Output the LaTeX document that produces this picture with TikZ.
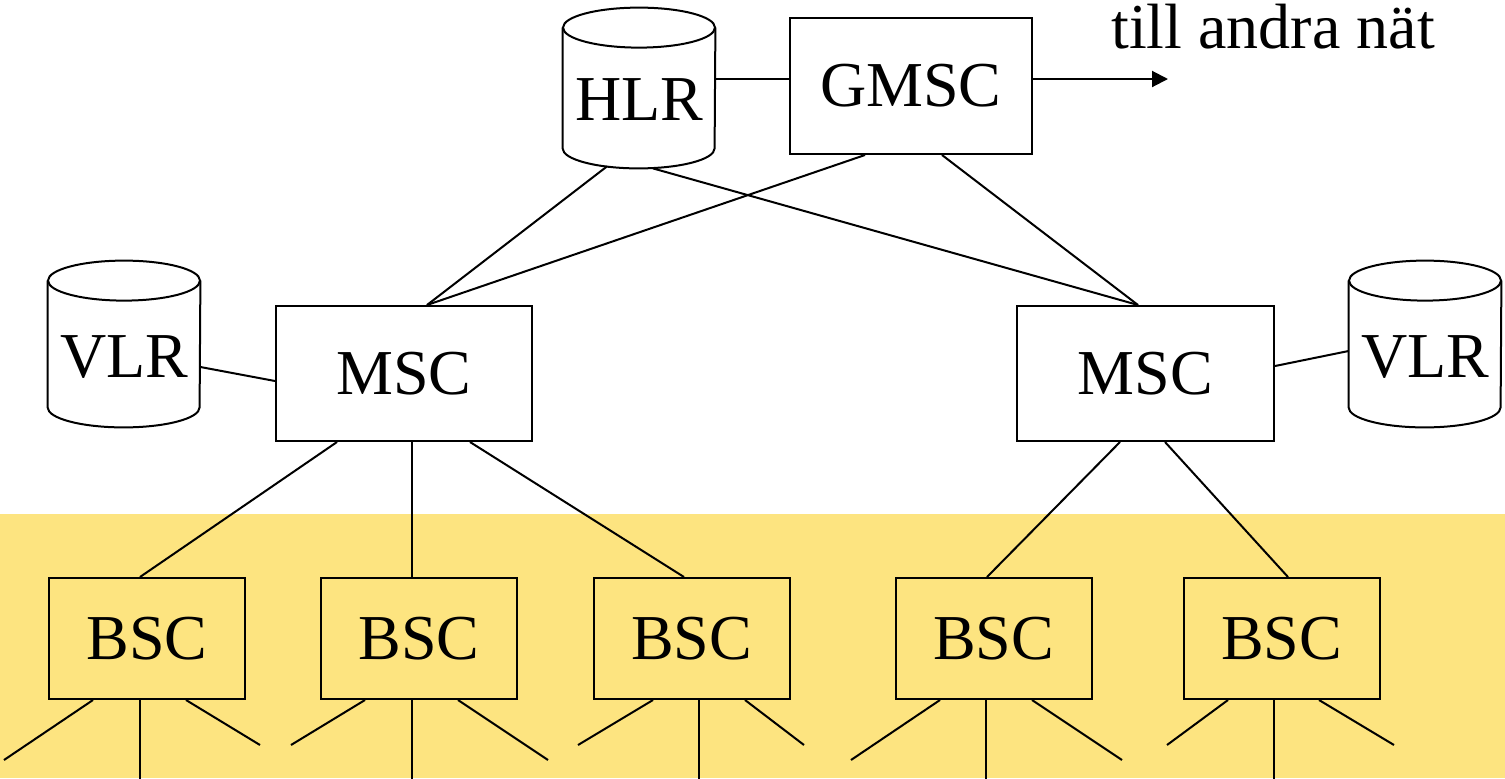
\documentclass[tikz,border=0pt]{standalone}
\usepackage{fontspec}
\setmainfont{Liberation Serif}
\usetikzlibrary{arrows.meta}
\definecolor{band}{RGB}{253,228,128}
\tikzset{
  lbl/.style={font=\fontsize{32}{38}\selectfont, inner sep=0pt},
  ln/.style={line width=1pt, black},
  box/.style={draw, line width=1pt, rectangle, inner sep=0pt, font=\fontsize{32}{38}\selectfont},
  db/.style={rectangle, inner sep=0pt, minimum width=76pt},
}
\begin{document}
\begin{tikzpicture}[x=0.5pt,y=-0.5pt]
\useasboundingbox (0,0) rectangle (1505,778);
\fill[band] (0,514) rectangle (1505,778);

% database nodes (cylinders)
\node[db, minimum height=80pt] (hlr) at (639,88) {};
\node[db, minimum height=83pt] (vlr1) at (124,344) {};
\node[db, minimum height=83pt] (vlr2) at (1425,344) {};
\foreach \n in {hlr,vlr1,vlr2}{
  \draw[ln] ([yshift=-10pt]\n.north west) -- ([yshift=10pt]\n.south west)
    arc[start angle=180,end angle=360,x radius=38pt,y radius=10pt]
    -- ([yshift=-10pt]\n.north east);
  \draw[ln] ([yshift=-10pt]\n.north) ellipse[x radius=38pt,y radius=10pt];
}
\node[lbl] (hlrt) at ([yshift=-6pt]hlr.center) {HLR};
\node[lbl] (vlr1t) at ([yshift=-6.5pt]vlr1.center) {VLR};
\node[lbl] (vlr2t) at ([yshift=-6.5pt]vlr2.center) {VLR};

% boxes
\node[box, minimum width=121pt, minimum height=68pt] (gmsc) at (911,86) {GMSC};
\node[box, minimum width=128pt, minimum height=67.5pt] (msc1) at (404,373.5) {MSC};
\node[box, minimum width=128.5pt, minimum height=67.5pt] (msc2) at (1145.5,373.5) {MSC};
\foreach \i/\x in {1/147,2/419,3/691.5,4/993.5,5/1281.5}
  \node[box, minimum width=98pt, minimum height=60.5pt] (bsc\i) at (\x,638.5) {BSC};

% text and arrow
\node[lbl, anchor=base] (till) at (1273,48) {till andra nät};
\coordinate (nat) at (1168,79);
\draw[ln] ([yshift=4.5pt]hlr.east) -- ([yshift=4.5pt]hlr.east -| gmsc.west);
\draw[ln, -{Triangle[length=8pt,width=8pt]}] ([yshift=3.5pt]gmsc.east) -- (nat);

% upper connectors
\draw[ln] ([xshift=-16pt,yshift=1pt]hlr.south) -- ([xshift=11.5pt]msc1.north);
\draw[ln] ([xshift=7pt]hlr.south) -- ([xshift=-3.75pt]msc2.north);
\draw[ln] ([xshift=-23pt]gmsc.south) -- ([xshift=11.5pt]msc1.north);
\draw[ln] ([xshift=15.5pt]gmsc.south) -- ([xshift=-3.75pt]msc2.north);
\draw[ln] ([yshift=-11.5pt]vlr1.east) -- ([yshift=-3.75pt]msc1.west);
\draw[ln] ([yshift=3.75pt]msc2.east) -- ([yshift=-3.5pt]vlr2.west);

% MSC to BSC
\draw[ln] ([xshift=-33.5pt]msc1.south) -- ([xshift=-3.5pt]bsc1.north);
\draw[ln] ([xshift=4pt]msc1.south) -- ([xshift=-3.5pt]bsc2.north);
\draw[ln] ([xshift=33pt]msc1.south) -- ([xshift=-3.75pt]bsc3.north);
\draw[ln] ([xshift=-12.75pt]msc2.south) -- ([xshift=-3.25pt]bsc4.north);
\draw[ln] ([xshift=9.75pt]msc2.south) -- ([xshift=3.25pt]bsc5.north);

% stubs below BSC
\draw[ln] ([xshift=-27pt]bsc1.south) -- ++(-89,60);
\draw[ln] ([xshift=-3.5pt]bsc1.south) -- ++(0,79);
\draw[ln] ([xshift=19.5pt]bsc1.south) -- ++(74,45);
\draw[ln] ([xshift=-27pt]bsc2.south) -- ++(-74,45);
\draw[ln] ([xshift=-3.5pt]bsc2.south) -- ++(0,79);
\draw[ln] ([xshift=19.5pt]bsc2.south) -- ++(90,60);
\draw[ln] ([xshift=-19.25pt]bsc3.south) -- ++(-75,45);
\draw[ln] ([xshift=3.75pt]bsc3.south) -- ++(0,79);
\draw[ln] ([xshift=26.75pt]bsc3.south) -- ++(59,45);
\draw[ln] ([xshift=-26.75pt]bsc4.south) -- ++(-89,60);
\draw[ln] ([xshift=-3.75pt]bsc4.south) -- ++(0,79);
\draw[ln] ([xshift=19.25pt]bsc4.south) -- ++(90,60);
\draw[ln] ([xshift=-26.75pt]bsc5.south) -- ++(-61,45);
\draw[ln] ([xshift=-3.75pt]bsc5.south) -- ++(0,79);
\draw[ln] ([xshift=18.75pt]bsc5.south) -- ++(75,45);
\end{tikzpicture}
\end{document}
